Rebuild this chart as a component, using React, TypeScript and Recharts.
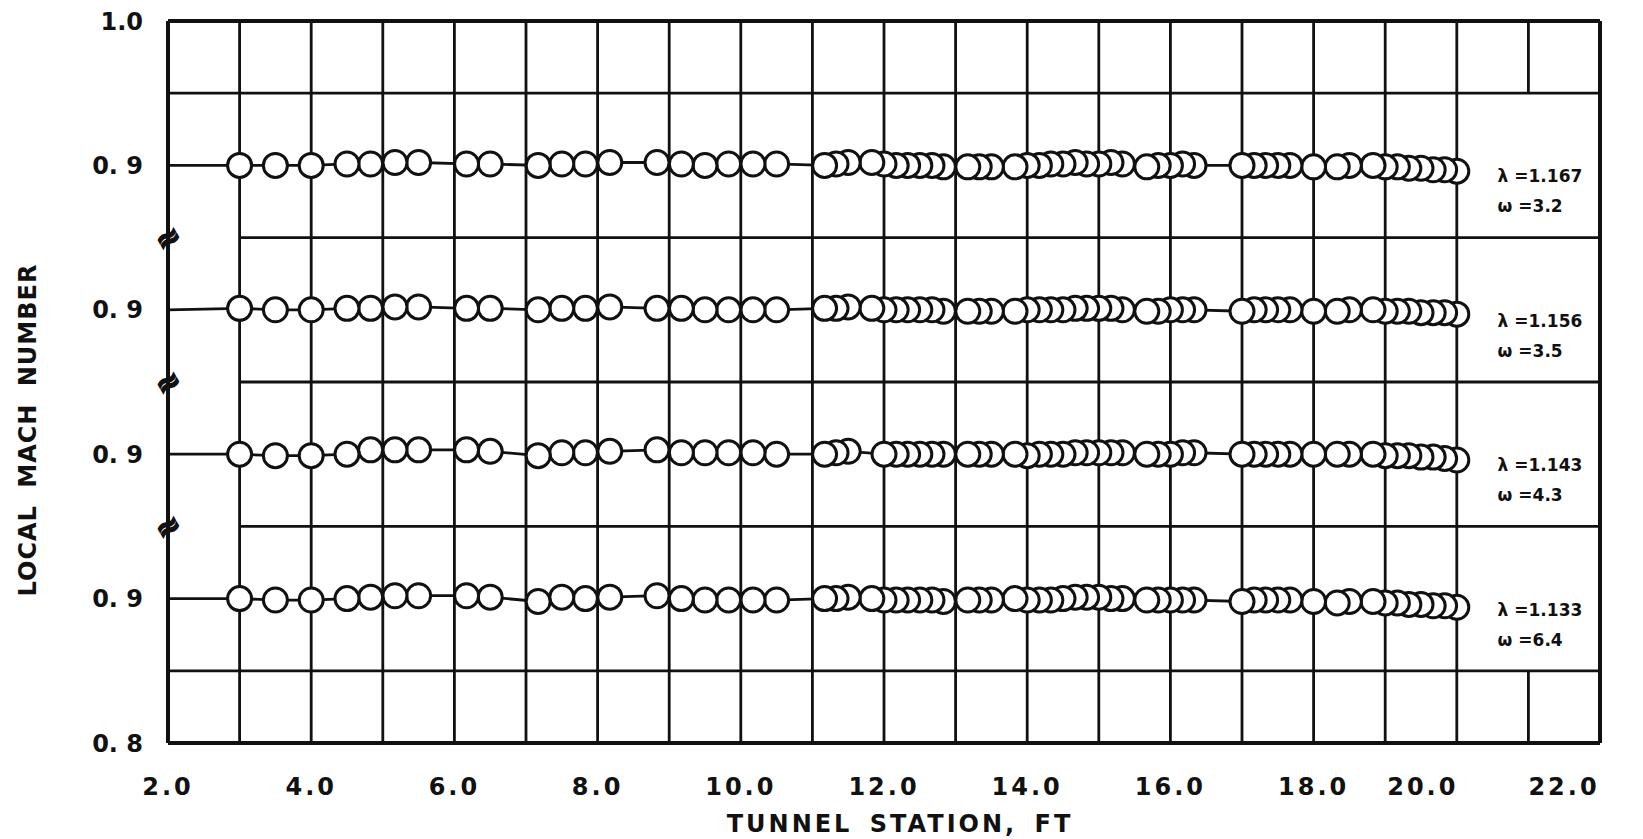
import React from "react";
import { LineChart, Line, XAxis, YAxis, ReferenceLine, ReferenceDot } from "recharts";

// ── axis ticks ────────────────────────────────────────────────
const X_TICKS = [2, 4, 6, 8, 10, 12, 14, 16, 18, 20, 22];
const Y_TICKS = [0.5, 0.6, 0.7, 0.8, 0.9, 1.0];
const Y_TICK_LABELS = ["0. 8", "0. 9", "0. 9", "0. 9", "0. 9", "1.0"];

// ── tunnel stations (ft) ──────────────────────────────────────
const STATION_FT = [
  3.0, 3.5, 4.0, 4.5, 4.83, 5.17, 5.5, 6.17, 6.5, 7.17, 7.5, 7.83, 8.17, 8.83, 9.17, 9.5, 9.83, 10.17, 10.5,
  11.17, 11.33, 11.5, 11.83, 12.0, 12.17, 12.33, 12.5, 12.67, 12.83,
  13.17, 13.33, 13.5, 13.83, 14.0, 14.17, 14.33, 14.5, 14.67, 14.83, 15.0, 15.17, 15.33,
  15.67, 15.83, 16.0, 16.17, 16.33,
  17.0, 17.17, 17.33, 17.5, 17.67, 18.0, 18.33, 18.5, 18.83, 19.0, 19.17, 19.33, 19.5, 19.67, 19.83, 20.0,
];
// run at lambda = 1.143 has no tap reading at 11.83
const STATION_FT_C = [
  3.0, 3.5, 4.0, 4.5, 4.83, 5.17, 5.5, 6.17, 6.5, 7.17, 7.5, 7.83, 8.17, 8.83, 9.17, 9.5, 9.83, 10.17, 10.5,
  11.17, 11.33, 11.5, 12.0, 12.17, 12.33, 12.5, 12.67, 12.83,
  13.17, 13.33, 13.5, 13.83, 14.0, 14.17, 14.33, 14.5, 14.67, 14.83, 15.0, 15.17, 15.33,
  15.67, 15.83, 16.0, 16.17, 16.33,
  17.0, 17.17, 17.33, 17.5, 17.67, 18.0, 18.33, 18.5, 18.83, 19.0, 19.17, 19.33, 19.5, 19.67, 19.83, 20.0,
];

// ── local Mach number per run ─────────────────────────────────
const MACH_1167 = [
  0.900, 0.900, 0.900, 0.901, 0.901, 0.902, 0.902, 0.901, 0.901, 0.900, 0.901, 0.901, 0.902, 0.902, 0.901, 0.900, 0.901, 0.901, 0.901,
  0.900, 0.901, 0.902, 0.902, 0.901, 0.900, 0.900, 0.900, 0.900, 0.899,
  0.899, 0.899, 0.899, 0.899, 0.900, 0.900, 0.901, 0.901, 0.902, 0.901, 0.901, 0.902, 0.901,
  0.899, 0.900, 0.900, 0.901, 0.900,
  0.900, 0.900, 0.900, 0.900, 0.900, 0.899, 0.899, 0.900, 0.900, 0.899, 0.899, 0.898, 0.898, 0.897, 0.897, 0.896,
];
const MACH_1156 = [
  0.901, 0.900, 0.900, 0.901, 0.901, 0.902, 0.902, 0.901, 0.901, 0.900, 0.901, 0.901, 0.902, 0.901, 0.901, 0.900, 0.900, 0.900, 0.900,
  0.901, 0.901, 0.902, 0.901, 0.900, 0.900, 0.900, 0.900, 0.900, 0.899,
  0.899, 0.899, 0.899, 0.899, 0.900, 0.900, 0.900, 0.900, 0.901, 0.901, 0.901, 0.901, 0.900,
  0.899, 0.899, 0.900, 0.900, 0.900,
  0.899, 0.900, 0.900, 0.900, 0.900, 0.899, 0.899, 0.900, 0.900, 0.899, 0.899, 0.899, 0.898, 0.898, 0.898, 0.897,
];
const MACH_1143 = [
  0.900, 0.899, 0.899, 0.900, 0.903, 0.903, 0.903, 0.903, 0.902, 0.899, 0.901, 0.901, 0.902, 0.903, 0.901, 0.901, 0.901, 0.901, 0.900,
  0.900, 0.901, 0.902, 0.900, 0.900, 0.900, 0.900, 0.900, 0.900,
  0.900, 0.900, 0.900, 0.900, 0.899, 0.900, 0.900, 0.900, 0.901, 0.901, 0.901, 0.901, 0.901,
  0.900, 0.900, 0.900, 0.901, 0.901,
  0.900, 0.900, 0.900, 0.900, 0.900, 0.900, 0.900, 0.900, 0.900, 0.899, 0.899, 0.899, 0.898, 0.898, 0.897, 0.896,
];
const MACH_1133 = [
  0.900, 0.899, 0.899, 0.900, 0.901, 0.902, 0.902, 0.902, 0.901, 0.898, 0.901, 0.900, 0.901, 0.902, 0.900, 0.899, 0.899, 0.899, 0.899,
  0.900, 0.900, 0.901, 0.900, 0.899, 0.899, 0.899, 0.899, 0.899, 0.898,
  0.899, 0.899, 0.899, 0.900, 0.899, 0.899, 0.899, 0.900, 0.901, 0.901, 0.901, 0.900, 0.900,
  0.899, 0.899, 0.899, 0.899, 0.899,
  0.898, 0.899, 0.899, 0.899, 0.899, 0.898, 0.897, 0.898, 0.898, 0.897, 0.897, 0.896, 0.896, 0.895, 0.895, 0.894,
];

const LAMBDA = ["1.167", "1.156", "1.143", "1.133"];
const OMEGA = ["3.2", "3.5", "4.3", "6.4"];

// each run is moved down by this much so the four curves stack
const SERIES_SHIFT = [0, 0.1, 0.2, 0.3];
const RUNS = [
  { stations: STATION_FT, mach: MACH_1167 },
  { stations: STATION_FT, mach: MACH_1156 },
  { stations: STATION_FT_C, mach: MACH_1143 },
  { stations: STATION_FT, mach: MACH_1133 },
];

const X_MIN = 2;
const X_MAX = 22;
const Y_MIN = 0.5;
const Y_MAX = 1.0;
const LABEL_X = 20.57;
const FONT = "'DejaVu Sans', sans-serif";
const INK = "#111";
// the last two station labels were lettered left of their grid lines
const X_TICK_NUDGE: Record<number, number> = { 20: -34, 22: -36 };

// data reversed so that earlier circles are painted on top ("O)))" look)
const seriesData = RUNS.map((run, k) =>
  run.stations
    .map((x, i) => ({ x, y: run.mach[i] - SERIES_SHIFT[k] }))
    .reverse()
);

const fmtY = (v: number) => {
  const i = Y_TICKS.findIndex((t) => Math.abs(t - v) < 1e-6);
  return i >= 0 ? Y_TICK_LABELS[i] : "";
};

const gridCols = Array.from({ length: X_MAX - X_MIN - 1 }, (_, i) => X_MIN + 1 + i);

const XTick = ({ x, y, payload }: any) => (
  <text
    x={x + (X_TICK_NUDGE[payload.value] ?? 0)}
    y={y}
    dy={20}
    textAnchor="middle"
    fontFamily={FONT}
    fontWeight="bold"
    fontSize={24}
    letterSpacing={3}
    fill={INK}
  >
    {Number(payload.value).toFixed(1)}
  </text>
);

const YTitle = ({ viewBox }: any) => {
  const cx = viewBox.x - 80;
  const cy = viewBox.y + viewBox.height / 2 + 48;
  return (
    <text
      x={cx}
      y={cy}
      transform={`rotate(-90 ${cx} ${cy})`}
      textAnchor="middle"
      dominantBaseline="central"
      fontFamily={FONT}
      fontWeight="bold"
      fontSize={24}
      letterSpacing={1}
      wordSpacing={8}
      fill={INK}
    >
      LOCAL MACH NUMBER
    </text>
  );
};

const XTitle = ({ viewBox }: any) => {
  const cx = viewBox.x + viewBox.width / 2 + 16;
  const cy = viewBox.y + viewBox.height - 7;
  return (
    <text
      x={cx}
      y={cy}
      textAnchor="middle"
      fontFamily={FONT}
      fontWeight="bold"
      fontSize={24}
      letterSpacing={3}
      wordSpacing={6}
      fill={INK}
    >
      TUNNEL STATION, FT
    </text>
  );
};

const breakMark = ({ cx, cy }: any) => (
  <text
    x={cx}
    y={cy}
    textAnchor="middle"
    dominantBaseline="central"
    transform={`rotate(-30 ${cx} ${cy})`}
    fontFamily={FONT}
    fontWeight="bold"
    fontSize={30}
    stroke={INK}
    strokeWidth={1.6}
    fill={INK}
  >
    ≈
  </text>
);

const runLabel = (k: number) => ({ cx, cy }: any) => (
  <g fontFamily={FONT} fontWeight="bold" fontSize={17} fill={INK}>
    <text x={cx} y={cy + 17}>{`λ =${LAMBDA[k]}`}</text>
    <text x={cx} y={cy + 47}>{`ω =${OMEGA[k]}`}</text>
  </g>
);

export default function App() {
  const grid = { stroke: INK, strokeWidth: 2.8, ifOverflow: "visible" as const };
  const frame = { stroke: INK, strokeWidth: 4, ifOverflow: "visible" as const };
  return (
    <div style={{ position: "absolute", left: 0, top: 0, width: 1643, height: 839, background: "#fff" }}>
      <LineChart width={1643} height={839} margin={{ top: 21, right: 43, bottom: 0, left: 108 }}>
        <XAxis
          type="number"
          dataKey="x"
          domain={[X_MIN, X_MAX]}
          ticks={X_TICKS}
          allowDataOverflow
          height={96}
          axisLine={false}
          tickLine={false}
          tickMargin={26}
          tick={XTick}
          label={XTitle}
        />
        <YAxis
          type="number"
          domain={[Y_MIN, Y_MAX]}
          ticks={Y_TICKS}
          allowDataOverflow
          width={60}
          axisLine={false}
          tickLine={false}
          tickMargin={19}
          tickFormatter={fmtY}
          tick={{ fill: INK, fontFamily: FONT, fontWeight: "bold", fontSize: 24 }}
          label={YTitle}
        />

        {/* vertical grid; column 21 is open where the run labels sit */}
        {gridCols.map((c) =>
          c === 21 ? (
            <React.Fragment key={`v${c}`}>
              <ReferenceLine segment={[{ x: c, y: Y_MIN }, { x: c, y: 0.55 }]} {...grid} />
              <ReferenceLine segment={[{ x: c, y: 0.95 }, { x: c, y: Y_MAX }]} {...grid} />
            </React.Fragment>
          ) : (
            <ReferenceLine key={`v${c}`} segment={[{ x: c, y: Y_MIN }, { x: c, y: Y_MAX }]} {...grid} />
          )
        )}
        {/* horizontal grid */}
        <ReferenceLine segment={[{ x: X_MIN, y: 0.95 }, { x: X_MAX, y: 0.95 }]} {...grid} />
        <ReferenceLine segment={[{ x: X_MIN, y: 0.55 }, { x: X_MAX, y: 0.55 }]} {...grid} />
        {[0.85, 0.75, 0.65].map((lv) => (
          <ReferenceLine key={`h${lv}`} segment={[{ x: X_MIN + 1, y: lv }, { x: X_MAX, y: lv }]} {...grid} />
        ))}
        {/* lead-in from the axis to the first station of each run */}
        {RUNS.map((run, k) => (
          <ReferenceLine
            key={`lead${k}`}
            segment={[
              { x: X_MIN, y: 0.9 - SERIES_SHIFT[k] },
              { x: run.stations[0], y: run.mach[0] - SERIES_SHIFT[k] },
            ]}
            {...grid}
          />
        ))}
        {/* frame */}
        <ReferenceLine x={X_MIN} {...frame} />
        <ReferenceLine x={X_MAX} {...frame} />
        <ReferenceLine y={Y_MIN} {...frame} />
        <ReferenceLine y={Y_MAX} {...frame} />

        {seriesData.map((d, k) => (
          <Line
            key={`run${k}`}
            data={d}
            dataKey="y"
            type="linear"
            stroke={INK}
            strokeWidth={2.8}
            dot={{ r: 12, fill: "#fff", stroke: INK, strokeWidth: 3 }}
            isAnimationActive={false}
          />
        ))}

        {SERIES_SHIFT.slice(0, 3).map((s, k) => (
          <ReferenceDot key={`brk${k}`} x={X_MIN} y={0.85 - s} r={0} shape={breakMark} ifOverflow="visible" />
        ))}
        {SERIES_SHIFT.map((s, k) => (
          <ReferenceDot key={`lab${k}`} x={LABEL_X} y={0.9 - s} r={0} shape={runLabel(k)} ifOverflow="visible" />
        ))}
      </LineChart>
    </div>
  );
}
